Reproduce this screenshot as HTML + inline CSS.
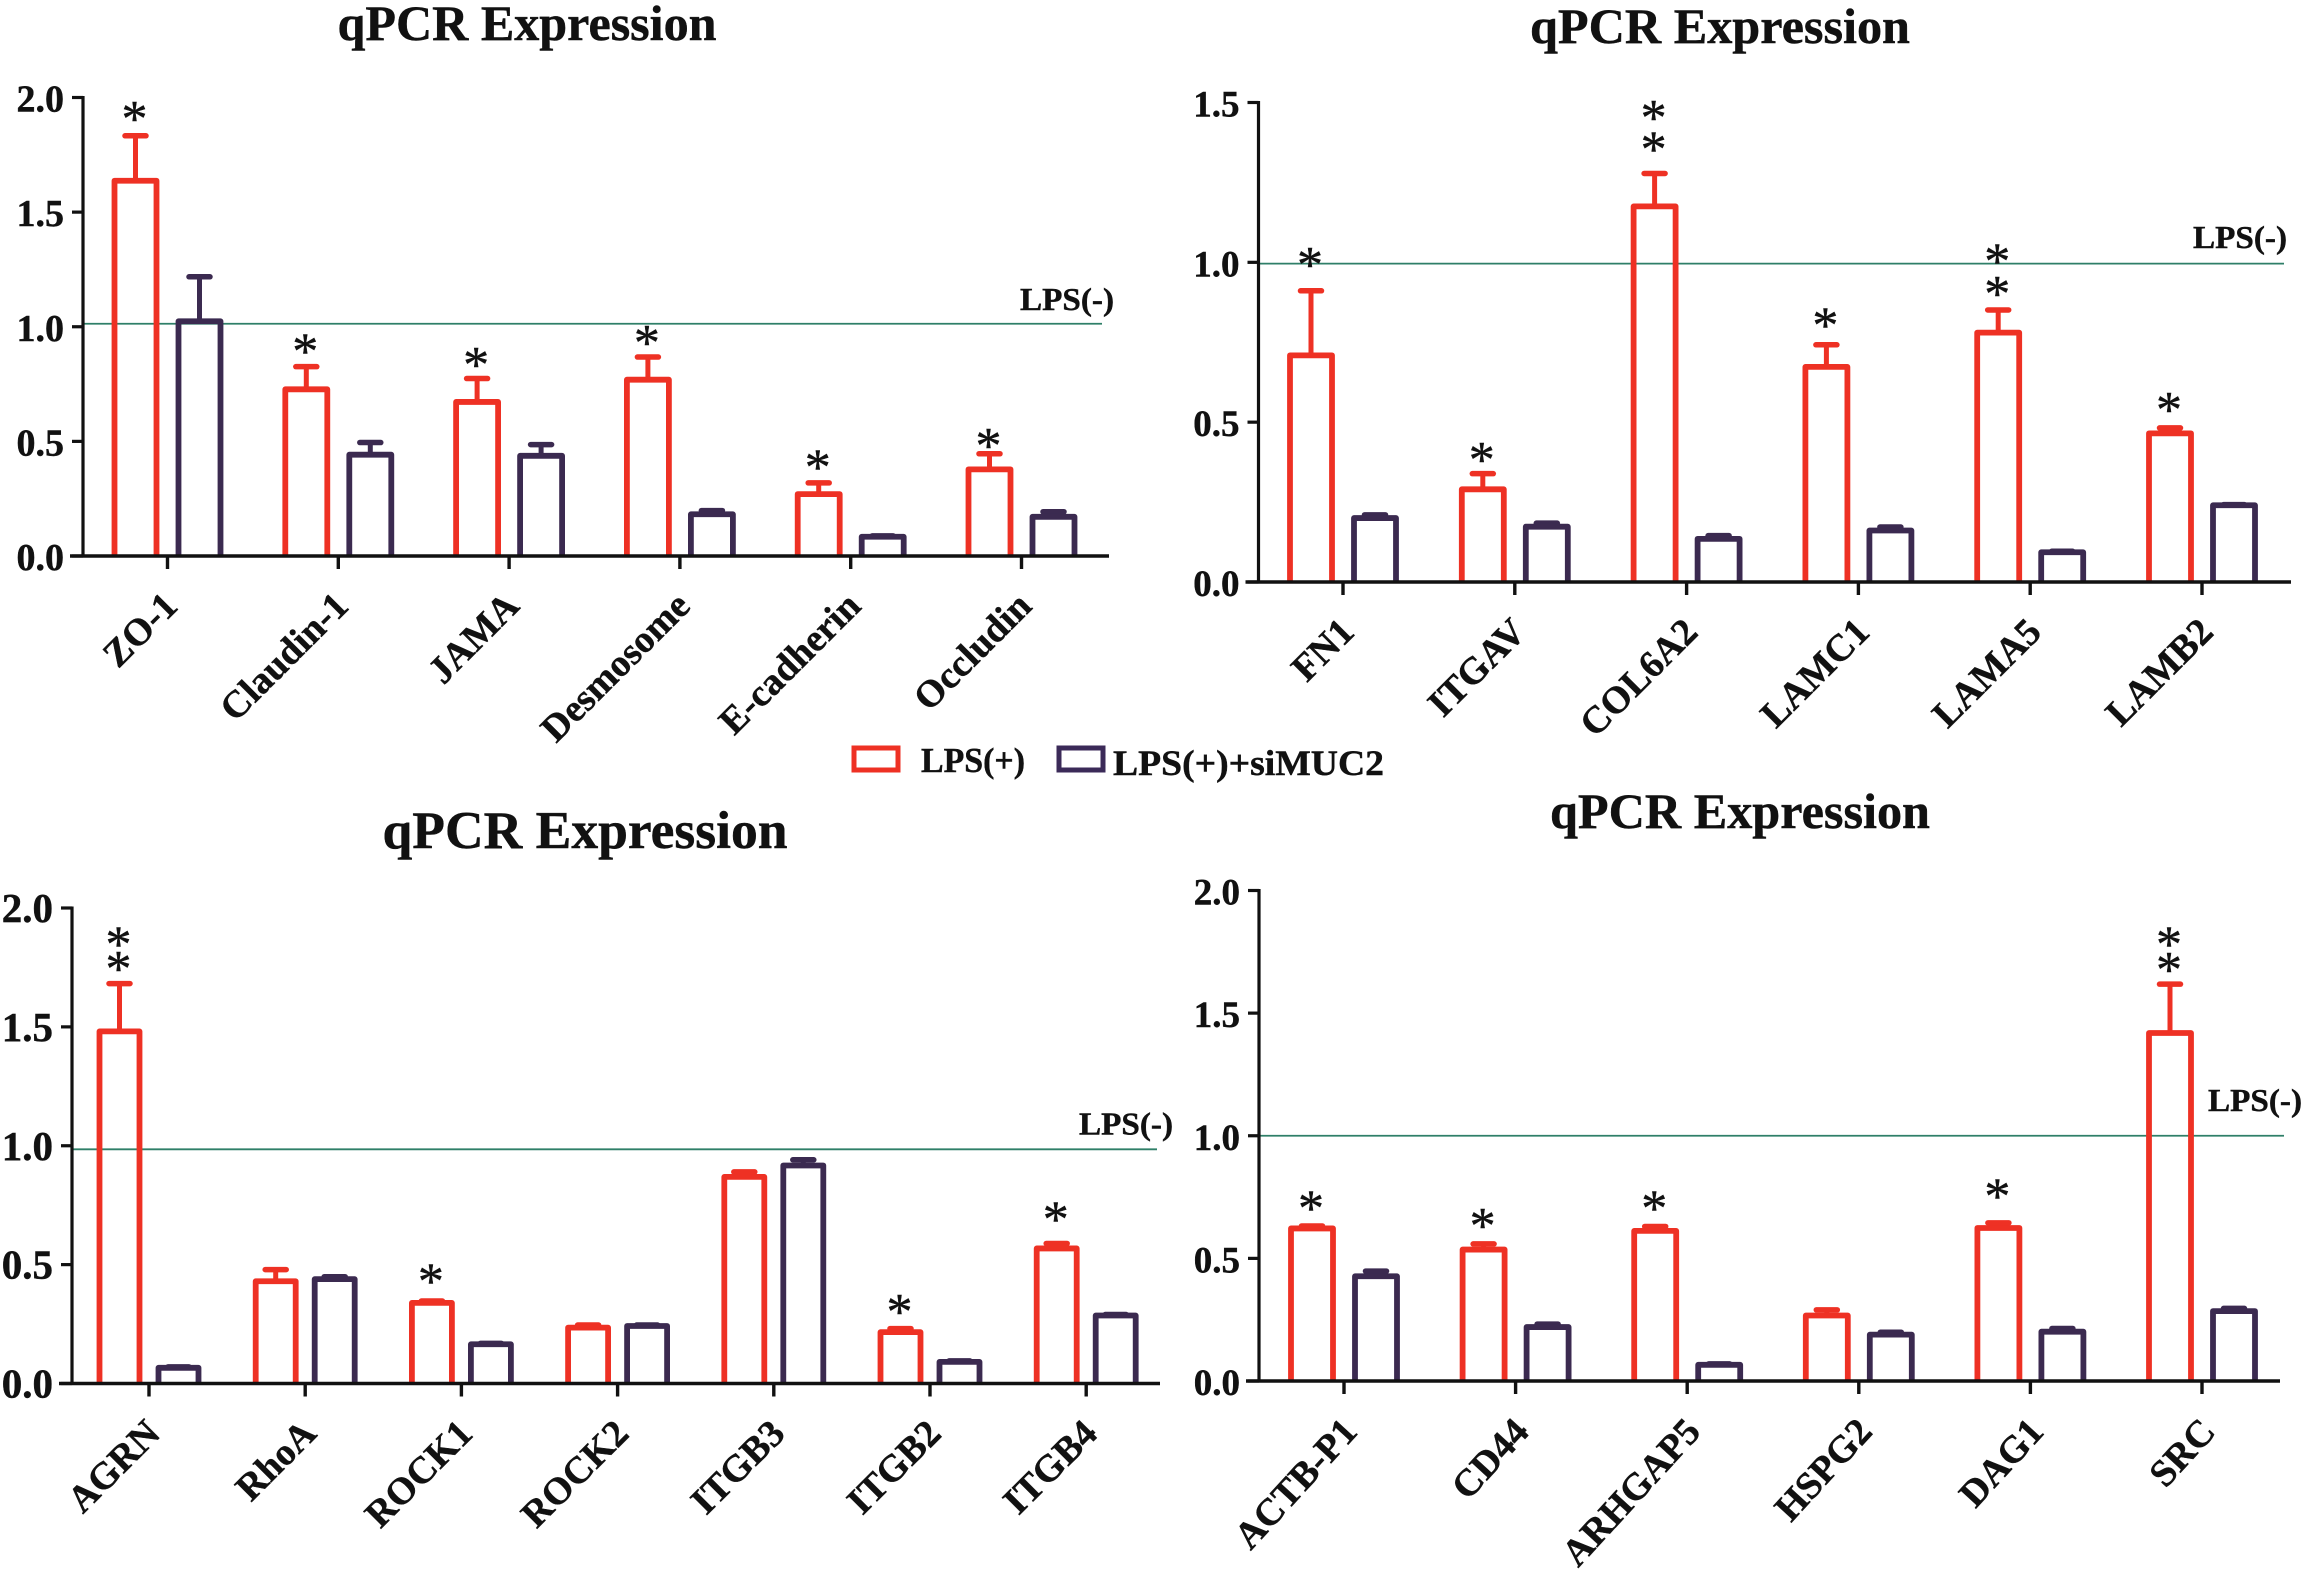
<!DOCTYPE html>
<html lang="en">
<head>
<meta charset="utf-8">
<title>qPCR Expression panels</title>
<style>
html,body{margin:0;padding:0;background:#fff;}
svg{display:block;}
text{font-family:"Liberation Serif",serif;font-weight:bold;fill:#111;stroke:#111;stroke-width:0.45;}
</style>
</head>
<body>
<svg id="figure" xmlns="http://www.w3.org/2000/svg" width="2303" height="1579" viewBox="0 0 2303 1579">
  <g>
    <rect x="854" y="748" width="44" height="22" fill="none" stroke="#EE3124" stroke-width="5"/>
    <text x="921" y="772" font-size="35" textLength="104" lengthAdjust="spacingAndGlyphs">LPS(+)</text>
    <rect x="1059" y="748" width="44" height="22" fill="none" stroke="#3B2A58" stroke-width="5"/>
    <text x="1113" y="775" font-size="36" textLength="271" lengthAdjust="spacingAndGlyphs">LPS(+)+siMUC2</text>
  </g>
</svg>
<script>
// Panel A
const panelACategories = ["ZO-1", "Claudin-1", "JAMA", "Desmosome", "E-cadherin", "Occludin"];
const panelARed = [1.637, 0.727, 0.672, 0.769, 0.270, 0.378];
const panelARedErr = [0.196, 0.099, 0.102, 0.099, 0.049, 0.068];
const panelABlue = [1.024, 0.442, 0.437, 0.182, 0.084, 0.171];
const panelABlueErr = [0.194, 0.053, 0.049, 0.016, 0.004, 0.022];
const panelAStars = [[1.927], [0.914], [0.855], [0.952], [0.407], [0.501]];
const panelATicks = [0, 0.5, 1, 1.5, 2];
const panelABaseline = 1.013;

// Panel B
const panelBCategories = ["FN1", "ITGAV", "COL6A2", "LAMC1", "LAMA5", "LAMB2"];
const panelBRed = [0.709, 0.290, 1.175, 0.673, 0.780, 0.465];
const panelBRedErr = [0.202, 0.049, 0.103, 0.069, 0.071, 0.017];
const panelBBlue = [0.200, 0.173, 0.135, 0.161, 0.093, 0.240];
const panelBBlueErr = [0.010, 0.011, 0.010, 0.011, 0.003, 0.002];
const panelBStars = [[1.007], [0.397], [1.467, 1.368], [0.818], [1.018, 0.917], [0.553]];
const panelBTicks = [0, 0.5, 1, 1.5];
const panelBBaseline = 0.996;

// Panel C
const panelCCategories = ["AGRN", "RhoA", "ROCK1", "ROCK2", "ITGB3", "ITGB2", "ITGB4"];
const panelCRed = [1.481, 0.430, 0.339, 0.235, 0.869, 0.216, 0.568];
const panelCRedErr = [0.201, 0.049, 0.008, 0.011, 0.021, 0.015, 0.021];
const panelCBlue = [0.066, 0.439, 0.165, 0.242, 0.917, 0.091, 0.286];
const panelCBlueErr = [0.004, 0.010, 0.004, 0.004, 0.024, 0.004, 0.004];
const panelCStars = [[1.867, 1.765], [], [0.451], [], [], [0.322], [0.710]];
const panelCTicks = [0, 0.5, 1, 1.5, 2];
const panelCBaseline = 0.985;

// Panel D
const panelDCategories = ["ACTB-P1", "CD44", "ARHGAP5", "HSPG2", "DAG1", "SRC"];
const panelDRed = [0.622, 0.536, 0.612, 0.267, 0.624, 1.419];
const panelDRedErr = [0.010, 0.023, 0.018, 0.023, 0.021, 0.199];
const panelDBlue = [0.427, 0.220, 0.066, 0.189, 0.201, 0.285];
const panelDBlueErr = [0.021, 0.012, 0.004, 0.010, 0.013, 0.011];
const panelDStars = [[0.723], [0.653], [0.723], [], [0.772], [1.801, 1.696]];
const panelDTicks = [0, 0.5, 1, 1.5, 2];
const panelDBaseline = 1.0;

const RED = "#EE3124";
const PURPLE = "#3B2A50";
const GREEN = "#2F7F68";
const INK = "#111111";
const NS = "http://www.w3.org/2000/svg";
const svg = document.getElementById("figure");

function mk(parent, tag, attrs, txt) {
  const el = document.createElementNS(NS, tag);
  for (const k in attrs) el.setAttribute(k, attrs[k]);
  if (txt !== undefined) el.textContent = txt;
  parent.appendChild(el);
  return el;
}

function drawBar(g, cx, yScale, value, err, color, seriesName, category, half) {
  const y0 = yScale(0);
  const top = yScale(value);
  const errTop = yScale(value + err);
  const stem = mk(g, "line", {x1: cx, x2: cx, y1: top, y2: errTop, stroke: color, "stroke-width": 5});
  
  
  const cap = mk(g, "line", {x1: cx - 10.5, x2: cx + 10.5, y1: errTop, y2: errTop, stroke: color, "stroke-width": 5.5, "stroke-linecap": "round"});
  
  
  const bar = mk(g, "path", {
    d: "M" + (cx - half) + " " + y0 + "V" + top + "H" + (cx + half) + "V" + y0,
    fill: "none", stroke: color, "stroke-width": 5.8, "stroke-linejoin": "round"
  });
  
  
}

function drawPanel(p) {
  const g = mk(svg, "g", {});
  
  

  const yScale = v => p.y0 + (p.yMaxPx - p.y0) * v / p.yMax;
  const xScale = i => p.firstTick + p.step * i;

  const title = mk(g, "text", {x: p.titleX, y: p.titleY, "font-size": p.titleSize, "text-anchor": "middle", textLength: p.titleW, lengthAdjust: "spacingAndGlyphs"}, "qPCR Expression");
  
  

  const refLine = mk(g, "line", {x1: p.axisX, x2: p.lineEnd, y1: yScale(p.baseline), y2: yScale(p.baseline), stroke: GREEN, "stroke-width": 1.8});
  
  

  const refLabel = mk(g, "text", {x: p.refX, y: p.refY, "font-size": 32, textLength: 94, lengthAdjust: "spacingAndGlyphs"}, "LPS(-)");
  
  

  p.cats.forEach((cat, i) => {
    const cx = xScale(i);
    drawBar(g, cx - p.offset, yScale, p.red[i], p.redErr[i], RED, "lps", cat, p.half);
    drawBar(g, cx + p.offset, yScale, p.blue[i], p.blueErr[i], PURPLE, "lps-simuc2", cat, p.half);

    p.stars[i].forEach(level => {
      const star = mk(g, "text", {x: cx - p.offset - 1, y: yScale(level) + 22, "font-size": 52, "text-anchor": "middle", style: "font-weight:normal"}, "*");
      
      
    });

    const tick = mk(g, "line", {x1: cx, x2: cx, y1: p.y0, y2: p.y0 + 13, stroke: INK, "stroke-width": 3.4});
    
    

    const lx = cx + p.labelDx;
    const ly = p.y0 + 52;
    const label = mk(g, "text", {x: lx, y: ly, "font-size": 38, "text-anchor": "end", transform: "rotate(" + p.labelAngle + " " + lx + " " + ly + ")"}, cat);
    
    
  });

  const yAxis = mk(g, "line", {x1: p.axisX, x2: p.axisX, y1: yScale(p.yMax) - 1.5, y2: p.y0, stroke: INK, "stroke-width": 3.2});
  
  

  const xAxis = mk(g, "line", {x1: p.axisX - 13, x2: p.axisEnd, y1: p.y0, y2: p.y0, stroke: INK, "stroke-width": 3.6});
  
  

  p.ticks.forEach(t => {
    const y = yScale(t);
    const yTick = mk(g, "line", {x1: p.axisX - 11, x2: p.axisX, y1: y, y2: y, stroke: INK, "stroke-width": 3.2});
    
    
    const yLabel = mk(g, "text", {x: p.axisX - 19, y: y + 14, "font-size": p.tickSize, "text-anchor": "end"}, t.toFixed(1));
    
    
  });
}

drawPanel({
  id: "a", cats: panelACategories, red: panelARed, redErr: panelARedErr, blue: panelABlue, blueErr: panelABlueErr,
  stars: panelAStars, ticks: panelATicks, baseline: panelABaseline, yMax: 2, tickSize: 38, labelAngle: -45, labelDx: 12,
  axisX: 83, axisEnd: 1109, lineEnd: 1102, y0: 556, yMaxPx: 97.5, firstTick: 167.5, step: 170.8, offset: 32, half: 21,
  titleX: 527, titleY: 40, titleSize: 50, titleW: 379, refX: 1020, refY: 310
});
drawPanel({
  id: "b", cats: panelBCategories, red: panelBRed, redErr: panelBRedErr, blue: panelBBlue, blueErr: panelBBlueErr,
  stars: panelBStars, ticks: panelBTicks, baseline: panelBBaseline, yMax: 1.5, tickSize: 37, labelAngle: -45, labelDx: 13,
  axisX: 1258.5, axisEnd: 2291, lineEnd: 2284, y0: 582, yMaxPx: 102.5, firstTick: 1343, step: 171.8, offset: 32, half: 21,
  titleX: 1720, titleY: 43, titleSize: 50, titleW: 380, refX: 2193, refY: 248
});
drawPanel({
  id: "c", cats: panelCCategories, red: panelCRed, redErr: panelCRedErr, blue: panelCBlue, blueErr: panelCBlueErr,
  stars: panelCStars, ticks: panelCTicks, baseline: panelCBaseline, yMax: 2, tickSize: 41, labelAngle: -45, labelDx: 13,
  axisX: 72, axisEnd: 1160, lineEnd: 1157, y0: 1383.5, yMaxPx: 908, firstTick: 149, step: 156.2, offset: 29.5, half: 20,
  titleX: 585, titleY: 848, titleSize: 53, titleW: 405, refX: 1079, refY: 1134.5
});
drawPanel({
  id: "d", cats: panelDCategories, red: panelDRed, redErr: panelDRedErr, blue: panelDBlue, blueErr: panelDBlueErr,
  stars: panelDStars, ticks: panelDTicks, baseline: panelDBaseline, yMax: 2, tickSize: 37, labelAngle: -47.5, labelDx: 15,
  axisX: 1259, axisEnd: 2280, lineEnd: 2284, y0: 1381, yMaxPx: 890.5, firstTick: 1344, step: 171.6, offset: 32, half: 21,
  titleX: 1740, titleY: 828, titleSize: 50, titleW: 380, refX: 2208, refY: 1111
});
</script>
</body>
</html>
